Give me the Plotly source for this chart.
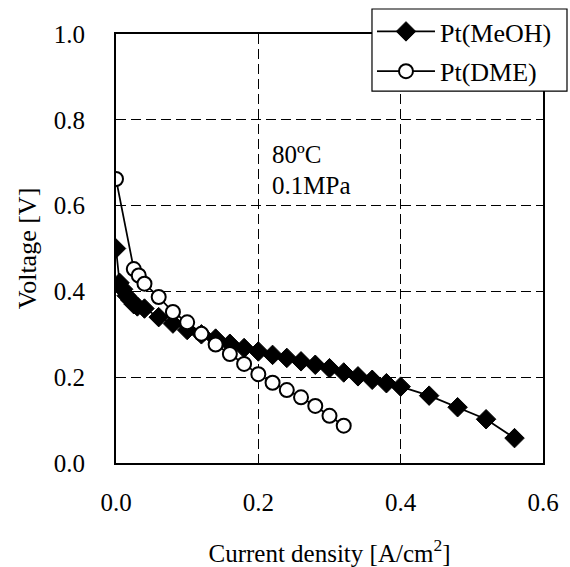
import plotly.graph_objects as go

# Pt(MeOH) data
meoh_x = [0.0, 0.005, 0.01, 0.015, 0.02, 0.025, 0.03, 0.04, 0.06, 0.08, 0.10, 0.12, 0.14, 0.16,
          0.18, 0.20, 0.22, 0.24, 0.26, 0.28, 0.30, 0.32, 0.34, 0.36, 0.38, 0.40, 0.44, 0.48, 0.52, 0.56]
meoh_y = [0.50, 0.42, 0.405, 0.39, 0.38, 0.37, 0.365, 0.36, 0.34, 0.325, 0.31, 0.30, 0.29, 0.278,
          0.268, 0.26, 0.252, 0.245, 0.237, 0.229, 0.221, 0.211, 0.202, 0.194, 0.186, 0.178, 0.157, 0.130, 0.102, 0.058]

# Pt(DME) data
dme_x = [0.0, 0.025, 0.032, 0.04, 0.06, 0.08, 0.10, 0.12, 0.14, 0.16, 0.18, 0.20, 0.22, 0.24,
         0.26, 0.28, 0.30, 0.32]
dme_y = [0.662, 0.452, 0.437, 0.418, 0.387, 0.352, 0.328, 0.301, 0.276, 0.254, 0.231, 0.207, 0.187,
         0.170, 0.153, 0.133, 0.110, 0.087]

x_ticks = [0.0, 0.2, 0.4, 0.6]
x_tick_labels = ["0.0", "0.2", "0.4", "0.6"]
y_ticks = [0.0, 0.2, 0.4, 0.6, 0.8, 1.0]
y_tick_labels = ["0.0", "0.2", "0.4", "0.6", "0.8", "1.0"]

FONT = "Liberation Serif"

fig = go.Figure()
fig.add_trace(go.Scatter(
    x=meoh_x, y=meoh_y, mode="lines+markers", name="Pt(MeOH)", legendgroup="a",
    line=dict(color="black", width=1.75),
    marker=dict(symbol="diamond", size=15, color="black", line=dict(color="black", width=1)),
))
fig.add_trace(go.Scatter(
    x=dme_x, y=dme_y, mode="lines+markers", name="Pt(DME)", legendgroup="b",
    line=dict(color="black", width=1.75),
    marker=dict(symbol="circle", size=14, color="white", line=dict(color="black", width=2)),
))

fig.add_annotation(x=0.217, y=0.718, xref="x", yref="y", text="80ºC", showarrow=False,
                   xanchor="left", yanchor="middle", font=dict(family=FONT, size=25, color="black"))
fig.add_annotation(x=0.217, y=0.648, xref="x", yref="y", text="0.1MPa", showarrow=False,
                   xanchor="left", yanchor="middle", font=dict(family=FONT, size=25, color="black"))

# legend frame (white box with black border) drawn above the plot
fig.add_shape(type="rect", xref="paper", yref="paper",
              x0=0.5995, x1=1.0562, y0=0.867, y1=1.0583,
              fillcolor="white", line=dict(color="black", width=1.2), layer="above")

fig.update_layout(
    width=570, height=567,
    margin=dict(l=116, r=27, t=34, b=104, autoexpand=False),
    paper_bgcolor="white", plot_bgcolor="white",
    font=dict(family=FONT, size=25, color="black"),
    showlegend=True,
    legend=dict(
        x=0.5995, y=1.0606, xanchor="left", yanchor="top", xref="paper", yref="paper",
        bgcolor="rgba(0,0,0,0)", borderwidth=0,
        font=dict(family=FONT, size=26, color="black"),
        itemwidth=58, tracegroupgap=3,
    ),
    xaxis=dict(
        range=[0, 0.6], tickvals=x_ticks, ticktext=x_tick_labels,
        showline=True, linecolor="black", linewidth=2, mirror=True,
        showgrid=True, gridcolor="black", gridwidth=1, griddash="10px,5px",
        zeroline=False, ticks="", ticklabelstandoff=16, automargin=False,
        tickfont=dict(family=FONT, size=25, color="black"),
        title=dict(text="Current density [A/cm<sup>2</sup>]", standoff=29,
                   font=dict(family=FONT, size=25, color="black")),
    ),
    yaxis=dict(
        range=[0, 1.0], tickvals=y_ticks, ticktext=y_tick_labels,
        showline=True, linecolor="black", linewidth=2, mirror=True,
        showgrid=True, gridcolor="black", gridwidth=1, griddash="10px,5px",
        zeroline=False, ticks="", ticklabelstandoff=24, automargin=False,
        tickfont=dict(family=FONT, size=25, color="black"),
        title=dict(text="Voltage [V]", standoff=10,
                   font=dict(family=FONT, size=26, color="black")),
    ),
)

fig.write_html("out.html", config={"displayModeBar": False},
               post_script="document.body.style.margin='0';document.body.style.overflow='hidden';")
